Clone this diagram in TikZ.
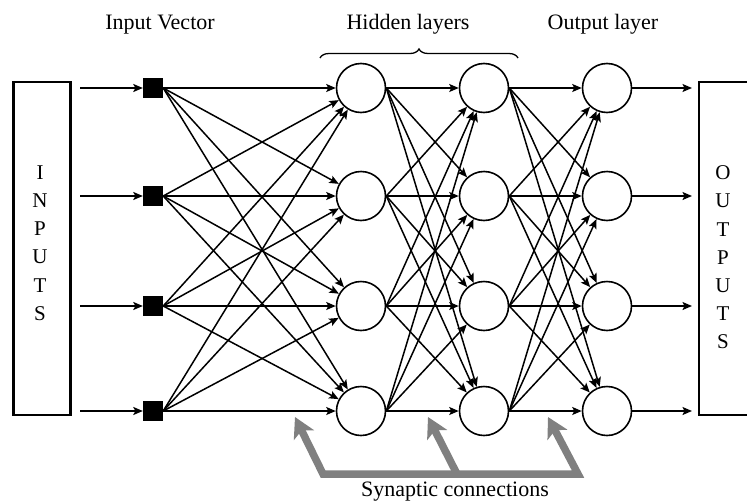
\documentclass[tikz,border=0pt]{standalone}
\usepackage{fontspec}
\setmainfont{Liberation Serif}
\usetikzlibrary{arrows.meta,decorations.pathreplacing}
\begin{document}
\begin{tikzpicture}[x=1pt,y=-1pt,
  conn/.style={line width=1.5pt,-{Stealth[length=9.5pt,width=8pt,inset=2pt]}},
  neuron/.style={circle,draw,line width=1.6pt,minimum size=49pt,inner sep=0pt,fill=white},
  invec/.style={rectangle,fill=black,minimum size=20pt,inner sep=0pt},
  iobox/.style={rectangle,draw,line width=2.4pt,minimum width=57pt,minimum height=333pt,inner sep=0pt},
  letters/.style={align=center,font=\fontsize{21}{28.2}\selectfont,inner sep=0pt},
  lbl/.style={font=\fontsize{22}{26}\selectfont,anchor=base,inner sep=0pt},
  syn/.style={draw=gray,line width=7.5pt,line join=miter},
  syntip/.tip={Stealth[length=20pt,width=22pt,inset=5pt]}
]
\clip (0,0) rectangle (747,501);
\fill[white] (0,0) rectangle (747,501);
% boxes
\node[iobox] (inbox) at (42,248.5) {};
\node[letters] (inletters) at (40,243) {I\\N\\P\\U\\T\\S};
\node[iobox,minimum width=80pt] (outbox) at (739,248.5) {};
\node[letters] (outletters) at (723,257.5) {O\\U\\T\\P\\U\\T\\S};
% nodes
\foreach \y [count=\i] in {88,196,306,411} {
  \node[invec] (s\i) at (153,\y) {};
  \node[neuron] (a\i) at (361,\y) {};
  \node[neuron] (b\i) at (484,\y) {};
  \node[neuron] (c\i) at (607,\y) {};
  \coordinate (in\i) at (80,\y);
  \coordinate (out\i) at (692,\y);
}
% connections
\foreach \i in {1,...,4} {
  \draw[conn] (in\i) -- (s\i.west);
  \draw[conn] (c\i.east) -- (out\i);
  \foreach \j in {1,...,4} {
    \draw[conn] (s\i.east) -- (a\j);
    \draw[conn] (a\i.east) -- (b\j);
    \draw[conn] (b\i.east) -- (c\j);
  }
}
% labels
\node[lbl] (lin) at (160,29) {Input Vector};
\node[lbl] (lhid) at (408,29) {Hidden layers};
\node[lbl] (lout) at (603,29) {Output layer};
\node[lbl] (lsyn) at (455,496) {Synaptic connections};
% brace
\coordinate (brl) at (320,58);
\coordinate (brr) at (518,58);
\draw[decorate,decoration={brace,amplitude=9pt},line width=1.3pt] (brl) -- (brr);
% synaptic arrows
\coordinate (g1) at (295,417);
\coordinate (g2) at (428,417);
\coordinate (g3) at (548,417);
\coordinate (gl) at (323,474);
\coordinate (gm) at (457,474);
\coordinate (gr) at (578,474);
\draw[syn,syntip-syntip] (g1) -- (gl) -- (gr) -- (g3);
\draw[syn,-syntip] (gm) -- (g2);
\end{tikzpicture}
\end{document}
